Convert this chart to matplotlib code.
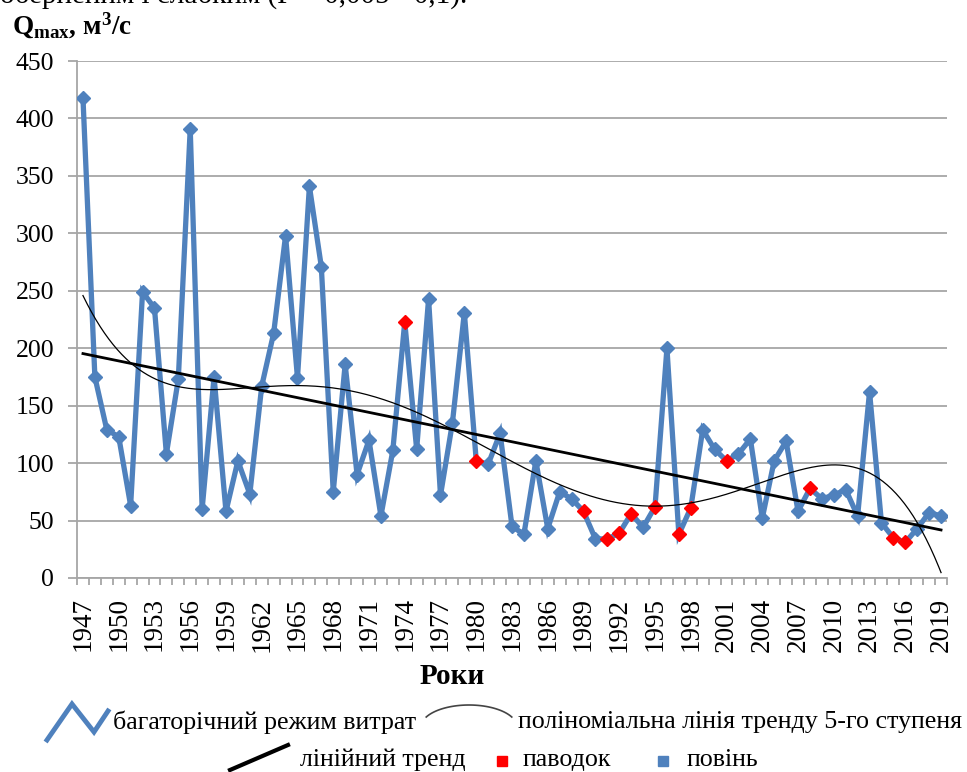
import numpy as np
import matplotlib.pyplot as plt
from matplotlib.lines import Line2D
from matplotlib.patches import Rectangle

plt.rcParams['font.family'] = ['Liberation Serif', 'DejaVu Serif']
plt.rcParams['mathtext.fontset'] = 'custom'
plt.rcParams['mathtext.rm'] = 'Liberation Serif'
plt.rcParams['mathtext.bf'] = 'Liberation Serif:bold'

years = np.arange(1947, 2020)
q_max = [418, 175, 129, 123, 63, 249, 235, 108, 173, 391,
         60, 175, 58, 102, 73, 167, 213, 298, 174, 341,
         271, 75, 186, 90, 120, 54, 111, 223, 112, 243,
         72, 135, 231, 102, 99, 126, 45, 38, 102, 43,
         75, 69, 58, 34, 34, 39, 56, 44, 62, 200,
         38, 61, 129, 112, 102, 108, 121, 52, 102, 119,
         58, 78, 69, 72, 77, 54, 162, 48, 35, 31,
         43, 57, 54]
flood_years = [1974, 1980, 1989, 1991, 1992, 1993, 1995, 1997, 1998,
               2001, 2008, 2015, 2016]   # паводок, the rest is повінь

BLUE = '#4F81BD'
W, H = 967, 772

q = np.array(q_max, dtype=float)
is_flood = np.isin(years, flood_years)

fig = plt.figure(figsize=(W / 100, H / 100), dpi=100)
ax = fig.add_axes([77 / W, 1 - 578 / H, 870 / W, 517 / H])

ax.plot(years, q, color=BLUE, lw=3.8, zorder=3, solid_joinstyle='miter')
ax.plot(years[~is_flood], q[~is_flood], ls='none', marker='D', ms=7.5,
        color=BLUE, zorder=4)
ax.plot(years[is_flood], q[is_flood], ls='none', marker='D', ms=7.5,
        color='red', zorder=4)

# trends like excel does them (x = 1..n)
xi = np.arange(1, len(years) + 1)
lin = np.polyfit(xi, q, 1)
ax.plot(years, np.polyval(lin, xi), color='black', lw=2.0, zorder=5)
p5 = np.polyfit(xi, q, 5)
xs = np.linspace(1, len(years), 400)
ax.plot(xs + 1946, np.polyval(p5, xs), color='black', lw=0.9, zorder=5)

ax.set_xlim(1946.5, 2019.5)
ax.set_ylim(0, 450)
ax.set_yticks(np.arange(0, 451, 50))
ax.set_xticks(years[::3])
ax.set_xticks(np.arange(1946.5, 2020, 1), minor=True)
ax.grid(axis='y', color='#A6A6A6', lw=1.3)
ax.set_axisbelow(True)
for s in ['top', 'right']:
    ax.spines[s].set_visible(False)
for s in ['left', 'bottom']:
    ax.spines[s].set_color('#A6A6A6')
    ax.spines[s].set_linewidth(1.3)
ax.tick_params(axis='y', length=6.5, width=1.3, color='#A6A6A6', pad=10,
               labelsize=18.5)
ax.tick_params(axis='x', which='major', length=0, pad=14, labelsize=19.5,
               labelrotation=90)
ax.tick_params(axis='x', which='minor', length=5, width=1.3, color='#A6A6A6')


def fx(px):
    return px / W


def fy(py):
    return 1 - py / H


fig.text(fx(452), fy(676), 'Роки', fontsize=21, fontweight='bold',
         ha='center', va='center')

# cut text from the page above the chart
fig.text(fx(0), fy(3), 'оберненим і слабким (Р = 0,005 - 0,1).', fontsize=21,
         va='baseline', ha='left')
fig.text(fx(12), fy(34), r'$\mathbf{Q_{max}}$, м$\mathbf{^3}$/с', fontsize=19.5,
         fontweight='bold', va='baseline', ha='left')

# legend, hand placed
fig.add_artist(Line2D([fx(47), fx(72), fx(94), fx(108)],
                      [fy(740), fy(704), fy(732), fy(711)],
                      color=BLUE, lw=3.5, solid_joinstyle='miter'))
fig.text(fx(113), fy(722), 'багаторічний режим витрат', fontsize=18.7, va='center')
t = np.linspace(0.15 * np.pi, 0.85 * np.pi, 40)
fig.add_artist(Line2D(fx(469 + 48 * np.cos(t)), fy(727 - 22 * np.sin(t)),
                      color='#444444', lw=1.2))
fig.text(fx(518), fy(722), 'поліноміальна лінія тренду 5-го ступеня',
         fontsize=18.7, va='center')
fig.add_artist(Line2D([fx(230), fx(288)], [fy(770), fy(745)], color='black', lw=3))
fig.text(fx(300), fy(760), 'лінійний тренд', fontsize=18.7, va='center')
fig.add_artist(Rectangle((fx(497), fy(766)), 10 / W, 10 / H, color='red',
                         transform=fig.transFigure))
fig.text(fx(523), fy(760), 'паводок', fontsize=18.7, va='center')
fig.add_artist(Rectangle((fx(658), fy(766)), 10 / W, 10 / H, color=BLUE,
                         transform=fig.transFigure))
fig.text(fx(687), fy(760), 'повінь', fontsize=18.7, va='center')

fig.savefig('out.png', dpi=100)
